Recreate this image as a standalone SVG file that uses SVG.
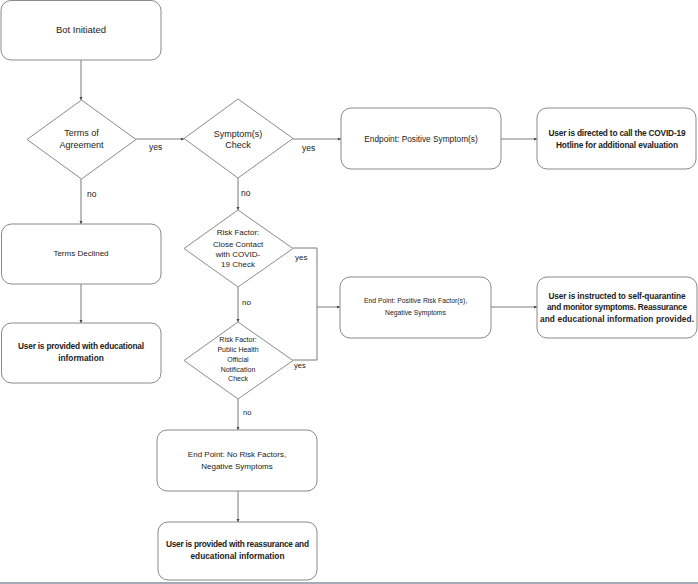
<svg xmlns="http://www.w3.org/2000/svg" width="698" height="584" viewBox="0 0 698 584">
<style>
.box{fill:#fff;stroke:#8a8a8a;stroke-width:1}
.dia{fill:#fff;stroke:#8a8a8a;stroke-width:1}
.ln{fill:none;stroke:#7a7a7a;stroke-width:1}
text{font-family:"Liberation Sans",Arial,sans-serif;fill:#222;text-anchor:middle}
.b{font-weight:bold;font-size:8.3px}
.lbl{text-anchor:start;font-size:8.5px}
</style>
<defs>
<marker id="ar" markerUnits="userSpaceOnUse" markerWidth="4" markerHeight="4" refX="3" refY="1.5" orient="auto">
<path d="M0,0 L3,1.5 L0,3 Z" fill="#444"/>
</marker>
</defs>
<rect x="0" y="582" width="698" height="2" fill="#a3acb4"/>
<g id="connectors">
<path class="ln" d="M81,60 V100" marker-end="url(#ar)"/>
<path class="ln" d="M136,139 H184" marker-end="url(#ar)"/>
<path class="ln" d="M293,139 H341" marker-end="url(#ar)"/>
<path class="ln" d="M501,139 H537" marker-end="url(#ar)"/>
<path class="ln" d="M81,179 V224" marker-end="url(#ar)"/>
<path class="ln" d="M81,284 V323" marker-end="url(#ar)"/>
<path class="ln" d="M238,178 V210" marker-end="url(#ar)"/>
<path class="ln" d="M238,287 V322" marker-end="url(#ar)"/>
<path class="ln" d="M293,248 H317 V360 H293"/>
<path class="ln" d="M317,307 H340" marker-end="url(#ar)"/>
<path class="ln" d="M491,307 H537" marker-end="url(#ar)"/>
<path class="ln" d="M238,399 V430" marker-end="url(#ar)"/>
<path class="ln" d="M238,491 V522" marker-end="url(#ar)"/>
<text class="lbl" x="149" y="150">yes</text>
<text class="lbl" x="302" y="151">yes</text>
<text class="lbl" x="87" y="197">no</text>
<text class="lbl" x="241" y="196">no</text>
<text class="lbl" x="295" y="260" style="font-size:8px">yes</text>
<text class="lbl" x="242" y="305" style="font-size:8px">no</text>
<text class="lbl" x="294" y="368" style="font-size:7.5px">yes</text>
<text class="lbl" x="243" y="415" style="font-size:7.5px">no</text>
</g>
<g id="bot-initiated">
<rect class="box" x="1" y="0.5" width="160" height="59.5" rx="10"/>
<text x="81" y="32.5" font-size="9.5">Bot Initiated</text>
</g>
<g id="terms-of-agreement">
<polygon class="dia" points="81.5,100 136,139.5 81.5,179 27,139.5"/>
<text x="81.5" y="136" font-size="9">Terms of</text>
<text x="81.5" y="148" font-size="9">Agreement</text>
</g>
<g id="symptom-check">
<polygon class="dia" points="238,99 293,138.5 238,178 184,138.5"/>
<text x="238" y="137" font-size="9">Symptom(s)</text>
<text x="238" y="148" font-size="9">Check</text>
</g>
<g id="endpoint-positive-symptoms">
<rect class="box" x="341" y="108" width="160" height="61" rx="10"/>
<text x="421" y="142" font-size="8.3">Endpoint: Positive Symptom(s)</text>
</g>
<g id="call-hotline">
<rect class="box" x="537" y="108" width="159" height="61" rx="10"/>
<text class="b" x="617" y="136" textLength="137">User is directed to call the COVID-19</text>
<text class="b" x="617" y="147.5" textLength="122">Hotline for additional evaluation</text>
</g>
<g id="terms-declined">
<rect class="box" x="1.5" y="224" width="159.5" height="60" rx="10"/>
<text x="81" y="256" font-size="8">Terms Declined</text>
</g>
<g id="educational-info">
<rect class="box" x="1.5" y="323" width="159.5" height="60" rx="10"/>
<text class="b" x="81" y="349" textLength="126">User is provided with educational</text>
<text class="b" x="81" y="360.5">information</text>
</g>
<g id="risk-close-contact">
<polygon class="dia" points="238,210 293,248.5 238,287 184,248.5"/>
<text x="238" y="235" font-size="8">Risk Factor:</text>
<text x="238" y="247" font-size="8">Close Contact</text>
<text x="238" y="257" font-size="8">with COVID-</text>
<text x="238" y="267" font-size="8">19 Check</text>
</g>
<g id="risk-public-health">
<polygon class="dia" points="238,322 293,360.5 238,399 184,360.5"/>
<text x="238" y="341.5" font-size="7">Risk Factor:</text>
<text x="238" y="351.5" font-size="7">Public Health</text>
<text x="238" y="361.5" font-size="7">Official</text>
<text x="238" y="371.5" font-size="7">Notification</text>
<text x="238" y="380.5" font-size="7">Check</text>
</g>
<g id="endpoint-positive-risk">
<rect class="box" x="340" y="277" width="151" height="61" rx="10"/>
<text x="415.5" y="303" font-size="6.8">End Point: Positive Risk Factor(s),</text>
<text x="415.5" y="315" font-size="6.8">Negative Symptoms</text>
</g>
<g id="self-quarantine">
<rect class="box" x="537" y="277" width="160" height="61" rx="10"/>
<text class="b" x="617" y="298.5" textLength="137">User is instructed to self-quarantine</text>
<text class="b" x="617" y="310" textLength="140">and monitor symptoms. Reassurance</text>
<text class="b" x="617" y="321.5" textLength="154">and educational information provided.</text>
</g>
<g id="endpoint-no-risk">
<rect class="box" x="157" y="430" width="160" height="61" rx="10"/>
<text x="237" y="457" font-size="8">End Point: No Risk Factors,</text>
<text x="237" y="469" font-size="8">Negative Symptoms</text>
</g>
<g id="reassurance-info">
<rect class="box" x="158" y="522" width="159" height="58" rx="10"/>
<text class="b" x="237.5" y="547" textLength="143">User is provided with reassurance and</text>
<text class="b" x="237.5" y="559">educational information</text>
</g>
</svg>
